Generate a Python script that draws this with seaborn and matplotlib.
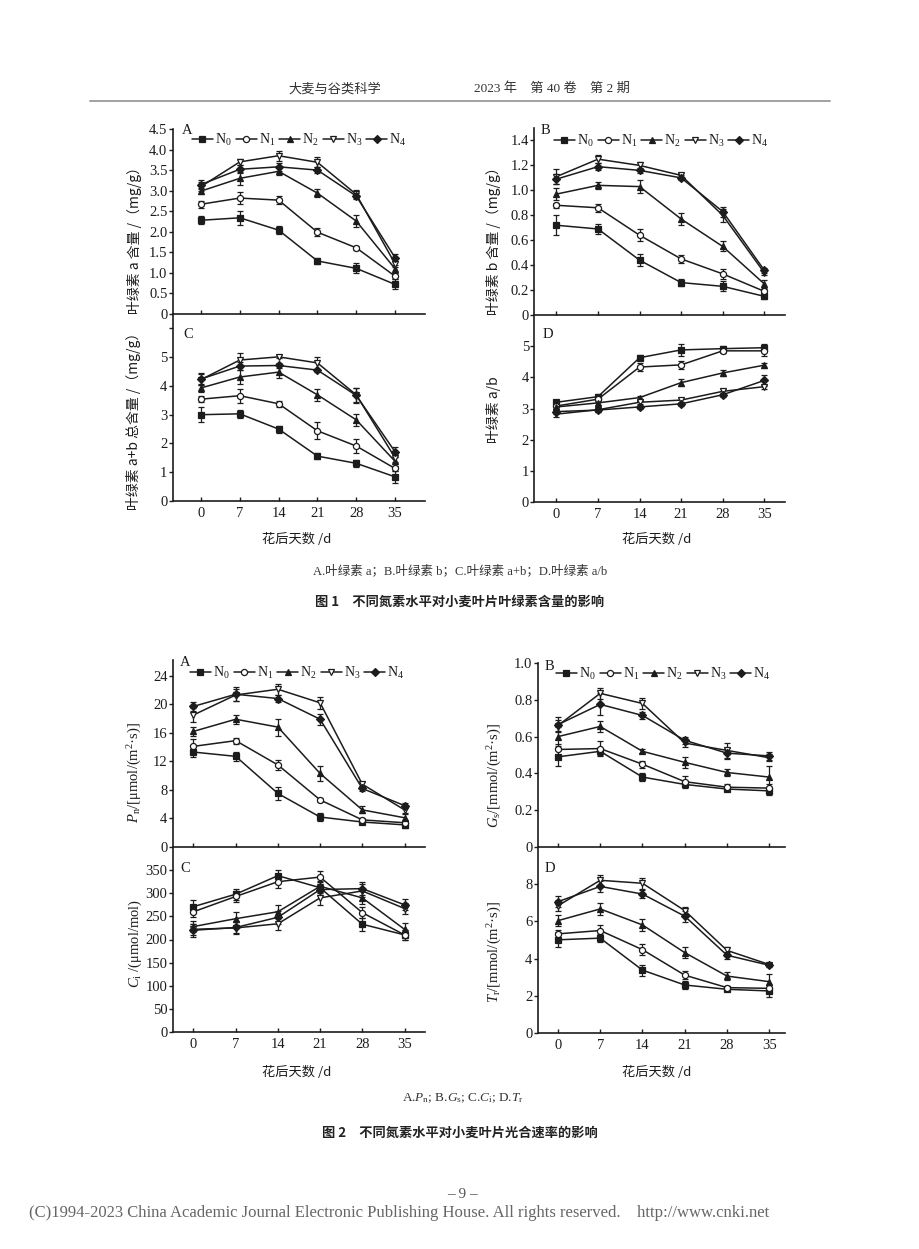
import pandas as pd
import matplotlib
matplotlib.use("Agg")
import matplotlib.pyplot as plt
import seaborn as sns
from matplotlib.lines import Line2D

# sampling days after anthesis
days = [0, 7, 14, 21, 28, 35]
treatments = ["N0", "N1", "N2", "N3", "N4"]
legend_labels = [r"N$_0$", r"N$_1$", r"N$_2$", r"N$_3$", r"N$_4$"]

# Fig 1 A: chlorophyll a (mg/g), rows N0..N4
chla = [[2.28, 2.34, 2.04, 1.29, 1.11, 0.72],
        [2.67, 2.82, 2.77, 1.99, 1.61, 0.92],
        [2.99, 3.30, 3.47, 2.94, 2.26, 1.10],
        [3.10, 3.70, 3.85, 3.69, 2.91, 1.22],
        [3.15, 3.52, 3.58, 3.50, 2.87, 1.37]]
chla_err = [[0.10, 0.17, 0.10, 0.08, 0.12, 0.12],
            [0.08, 0.15, 0.10, 0.10, 0.05, 0.08],
            [0.08, 0.15, 0.10, 0.10, 0.15, 0.10],
            [0.10, 0.07, 0.12, 0.12, 0.10, 0.08],
            [0.10, 0.10, 0.10, 0.08, 0.08, 0.08]]

# Fig 1 B: chlorophyll b (mg/g)
chlb = [[0.72, 0.69, 0.44, 0.26, 0.23, 0.15],
        [0.88, 0.86, 0.64, 0.45, 0.33, 0.19],
        [0.97, 1.04, 1.03, 0.77, 0.55, 0.25],
        [1.11, 1.25, 1.20, 1.12, 0.80, 0.34],
        [1.09, 1.19, 1.16, 1.10, 0.83, 0.36]]
chlb_err = [[0.08, 0.04, 0.05, 0.03, 0.04, 0.02],
            [0.02, 0.03, 0.05, 0.03, 0.04, 0.02],
            [0.05, 0.03, 0.05, 0.05, 0.04, 0.03],
            [0.06, 0.03, 0.03, 0.02, 0.05, 0.02],
            [0.04, 0.03, 0.02, 0.02, 0.04, 0.02]]

# Fig 1 C: chlorophyll a+b (mg/g)
chlab = [[3.00, 3.03, 2.50, 1.56, 1.31, 0.84],
         [3.54, 3.66, 3.38, 2.44, 1.91, 1.13],
         [3.93, 4.31, 4.48, 3.69, 2.82, 1.38],
         [4.22, 4.90, 5.01, 4.80, 3.69, 1.50],
         [4.24, 4.69, 4.71, 4.55, 3.67, 1.71]]
chlab_err = [[0.27, 0.15, 0.12, 0.10, 0.13, 0.20],
             [0.10, 0.25, 0.10, 0.30, 0.25, 0.10],
             [0.15, 0.25, 0.20, 0.20, 0.20, 0.15],
             [0.20, 0.25, 0.05, 0.20, 0.25, 0.15],
             [0.20, 0.15, 0.10, 0.05, 0.25, 0.18]]

# Fig 1 D: chlorophyll a/b
ratio = [[3.20, 3.38, 4.63, 4.88, 4.92, 4.95],
         [3.08, 3.30, 4.33, 4.40, 4.85, 4.85],
         [3.05, 3.18, 3.35, 3.83, 4.14, 4.39],
         [2.82, 2.96, 3.20, 3.27, 3.55, 3.70],
         [2.90, 2.95, 3.05, 3.15, 3.44, 3.90]]
ratio_err = [[0.08, 0.08, 0.08, 0.18, 0.10, 0.12],
             [0.08, 0.08, 0.12, 0.12, 0.08, 0.15],
             [0.08, 0.06, 0.06, 0.12, 0.10, 0.08],
             [0.08, 0.06, 0.08, 0.08, 0.06, 0.06],
             [0.08, 0.06, 0.08, 0.06, 0.06, 0.18]]

# Fig 2 A: Pn
pn = [[13.3, 12.7, 7.5, 4.2, 3.5, 3.1],
      [14.1, 14.9, 11.5, 6.6, 3.8, 3.4],
      [16.2, 17.9, 16.8, 10.3, 5.2, 4.1],
      [18.5, 21.3, 22.1, 20.2, 8.8, 5.2],
      [19.7, 21.4, 20.8, 17.9, 8.2, 5.8]]
pn_err = [[0.7, 0.6, 0.9, 0.5, 0.3, 0.5],
          [1.0, 0.4, 0.7, 0.3, 0.3, 0.4],
          [0.6, 0.6, 1.2, 1.0, 0.5, 0.5],
          [1.0, 0.8, 0.8, 0.8, 0.3, 0.4],
          [0.6, 1.0, 0.5, 0.8, 0.3, 0.3]]

# Fig 2 B: Gs
gs = [[0.49, 0.52, 0.38, 0.34, 0.315, 0.305],
      [0.53, 0.535, 0.45, 0.355, 0.325, 0.32],
      [0.60, 0.655, 0.52, 0.46, 0.405, 0.38],
      [0.66, 0.835, 0.78, 0.565, 0.525, 0.485],
      [0.665, 0.775, 0.715, 0.58, 0.51, 0.495]]
gs_err = [[0.05, 0.02, 0.02, 0.02, 0.01, 0.02],
          [0.03, 0.04, 0.02, 0.03, 0.02, 0.02],
          [0.05, 0.03, 0.01, 0.03, 0.02, 0.06],
          [0.03, 0.03, 0.03, 0.02, 0.04, 0.02],
          [0.04, 0.06, 0.02, 0.02, 0.03, 0.02]]

# Fig 2 C: Ci
ci = [[271, 298, 338, 312, 233, 210],
      [260, 293, 325, 335, 258, 210],
      [228, 245, 260, 315, 290, 222],
      [222, 225, 234, 290, 305, 267],
      [220, 226, 248, 308, 310, 275]]
ci_err = [[14, 12, 12, 12, 14, 10],
          [12, 12, 14, 14, 12, 10],
          [12, 14, 14, 12, 14, 14],
          [12, 14, 14, 16, 14, 12],
          [14, 12, 14, 12, 14, 12]]

# Fig 2 D: Tr
tr = [[5.01, 5.10, 3.38, 2.58, 2.35, 2.26],
      [5.33, 5.51, 4.48, 3.11, 2.44, 2.40],
      [6.04, 6.67, 5.81, 4.32, 3.06, 2.76],
      [6.84, 8.21, 8.05, 6.58, 4.44, 3.68],
      [7.06, 7.88, 7.47, 6.28, 4.18, 3.64]]
tr_err = [[0.4, 0.2, 0.3, 0.2, 0.1, 0.3],
          [0.2, 0.3, 0.3, 0.2, 0.1, 0.2],
          [0.3, 0.3, 0.3, 0.3, 0.2, 0.4],
          [0.3, 0.3, 0.3, 0.2, 0.2, 0.1],
          [0.3, 0.3, 0.2, 0.3, 0.2, 0.1]]

sns.set_theme(style="ticks")
plt.rcParams["font.family"] = ["Liberation Serif", "Noto Sans CJK SC", "DejaVu Sans"]
plt.rcParams["mathtext.fontset"] = "custom"
plt.rcParams["mathtext.rm"] = "Liberation Serif"
plt.rcParams["mathtext.it"] = "Liberation Serif:italic"

W, H = 920, 1249
ink = "#1c1c1c"
markers = ["s", "o", "^", "v", "D"]
faces = [ink, "white", ink, "white", ink]
msizes = [4.2, 4.4, 4.6, 4.6, 3.8]
cjk = ["Noto Sans CJK SC", "Liberation Serif"]

fig = plt.figure(figsize=(W / 100, H / 100), dpi=100)


def fx(x):
    return x / W


def fy(y):
    return 1 - y / H


def make_axes(l, r, t, b):
    return fig.add_axes([fx(l), fy(b), (r - l) / W, (b - t) / H])


def draw(ax, means, errs, xlim, ylim, yticks, ylabels, top):
    for i in range(len(treatments)):
        df = pd.DataFrame({"day": days, "value": means[i]})
        sns.lineplot(data=df, x="day", y="value", ax=ax, color=ink, linewidth=1.1,
                     marker=markers[i], markersize=msizes[i], markerfacecolor=faces[i],
                     markeredgecolor=ink, markeredgewidth=0.9, errorbar=None,
                     legend=False, zorder=3)
        ax.errorbar(days, means[i], yerr=errs[i], fmt="none", ecolor=ink,
                    elinewidth=0.9, capsize=2, capthick=0.9, zorder=2)
    ax.set_xlim(*xlim)
    ax.set_ylim(*ylim)
    ax.set_xticks(days)
    ax.set_xticklabels([str(d) for d in days])
    ax.set_yticks(yticks)
    ax.set_yticklabels(ylabels)
    ax.set_xlabel("")
    ax.set_ylabel("")
    ax.set_facecolor("none")
    for s in ["top", "right"]:
        ax.spines[s].set_visible(False)
    for s in ["left", "bottom"]:
        ax.spines[s].set_linewidth(1.2)
        ax.spines[s].set_color(ink)
    ax.tick_params(axis="x", direction="in", length=3, width=1, colors=ink,
                   labelsize=10.5, pad=4, labelbottom=not top)
    ax.tick_params(axis="y", direction="out", length=3, width=1, colors=ink,
                   labelsize=10.5, pad=1)


def add_legend(ax, x, y):
    handles = [Line2D([0], [0], color=ink, lw=1.1, marker=markers[i], markersize=msizes[i],
                      markerfacecolor=faces[i], markeredgecolor=ink, markeredgewidth=0.9)
               for i in range(len(treatments))]
    fig.legend(handles, legend_labels, loc="center left", bbox_to_anchor=(fx(x), fy(y)),
               ncol=5, frameon=False, fontsize=10, handlelength=1.5, handletextpad=0.15,
               columnspacing=0.3, borderpad=0, borderaxespad=0, labelcolor=ink)


def fmt(vals, nd):
    return [("0" if v == 0 else f"{v:.{nd}f}") for v in vals]


# ---------- figure 1 ----------
ax1a = make_axes(173, 425, 129, 314)
ax1c = make_axes(173, 425, 314, 501)
ax1b = make_axes(534.5, 785, 128, 315)
ax1d = make_axes(534.5, 785, 315, 502)

t = [0, 0.5, 1.0, 1.5, 2.0, 2.5, 3.0, 3.5, 4.0, 4.5]
draw(ax1a, chla, chla_err, (-5.05, 40.4), (0, 4.5), t, fmt(t, 1), True)
t = [0, 0.2, 0.4, 0.6, 0.8, 1.0, 1.2, 1.4]
draw(ax1b, chlb, chlb_err, (-3.7, 38.5), (0, 1.5), t, fmt(t, 1), True)
t = [0, 1, 2, 3, 4, 5, 6]
draw(ax1c, chlab, chlab_err, (-5.05, 40.4), (0, 6.5), t, ["0", "1", "2", "3", "4", "5", ""], False)
t = [0, 1, 2, 3, 4, 5]
draw(ax1d, ratio, ratio_err, (-3.7, 38.5), (0, 6.0), t, ["0", "1", "2", "3", "4", "5"], False)

add_legend(ax1a, 192, 140)
add_legend(ax1b, 554, 141)

# ---------- figure 2 ----------
ax2a = make_axes(173, 425, 660, 847)
ax2c = make_axes(173, 425, 847, 1032)
ax2b = make_axes(538, 785, 663, 847)
ax2d = make_axes(538, 785, 847, 1033)

t = [0, 4, 8, 12, 16, 20, 24]
draw(ax2a, pn, pn_err, (-3.4, 38.4), (0, 26.2), t, [str(v) for v in t], True)
t = [0, 0.2, 0.4, 0.6, 0.8, 1.0]
draw(ax2b, gs, gs_err, (-3.3, 37.6), (0, 1.0), t, fmt(t, 1), True)
t = [0, 50, 100, 150, 200, 250, 300, 350]
draw(ax2c, ci, ci_err, (-3.4, 38.4), (0, 400), t, [str(v) for v in t], False)
t = [0, 2, 4, 6, 8]
draw(ax2d, tr, tr_err, (-3.3, 37.6), (0, 10), t, [str(v) for v in t], False)

add_legend(ax2a, 190, 673)
add_legend(ax2b, 556, 674)

# panel letters
for letter, x, y in [("A", 182, 130), ("B", 541, 131), ("C", 183, 334), ("D", 543, 334),
                     ("A", 180, 663), ("B", 545, 666), ("C", 180, 869), ("D", 545, 868)]:
    fig.text(fx(x), fy(y), letter, fontsize=10.5, color=ink, ha="left", va="center")

# y axis labels
ylabels = [
    ("叶绿素 a 含量 /（mg/g）", 135, 237),
    ("叶绿素 b 含量 /（mg/g）", 494, 238),
    ("叶绿素 a+b 总含量 /（mg/g）", 134, 418),
    ("叶绿素 a/b", 494, 410),
]
for txt, x, y in ylabels:
    fig.text(fx(x), fy(y), txt, rotation=90, fontsize=10, color=ink, ha="center",
             va="center", family=cjk)

ylabels2 = [
    (r"$P_{\rm n}$/[μmol/(m$^{2}$·s)]", 135, 772),
    (r"$G_{\rm s}$/[mmol/(m$^{2}$·s)]", 495, 775),
    (r"$C_{\rm i}$ /(μmol/mol)", 135, 943),
    (r"$T_{\rm r}$/[mmol/(m$^{2}$·s)]", 495, 952),
]
for txt, x, y in ylabels2:
    fig.text(fx(x), fy(y), txt, rotation=90, fontsize=10.5, color=ink, ha="center",
             va="center")

# x axis labels
for x, y in [(297, 540), (657, 540), (297, 1072), (657, 1072)]:
    fig.text(fx(x), fy(y), "花后天数 /d", fontsize=9.5, color=ink, ha="center",
             va="center", family=cjk)

# header
fig.text(fx(335), fy(89), "大麦与谷类科学", fontsize=9.5, color="#333333", ha="center",
         va="center", family=cjk)
fig.text(fx(552), fy(89), "2023 年　第 40 卷　第 2 期", fontsize=9.5, color="#333333",
         ha="center", va="center", family=["Liberation Serif", "Noto Sans CJK SC"])
fig.add_artist(Line2D([fx(90), fx(830)], [fy(101), fy(101)], color="#9a9a9a", lw=1.3))

# captions
fig.text(fx(460), fy(571), "A.叶绿素 a；B.叶绿素 b；C.叶绿素 a+b；D.叶绿素 a/b",
         fontsize=9, color="#333333", ha="center", va="center",
         family=["Liberation Serif", "Noto Sans CJK SC"])
fig.text(fx(460), fy(602), "图 1　不同氮素水平对小麦叶片叶绿素含量的影响", fontsize=9.5,
         color="#222222", ha="center", va="center", family=cjk, weight="bold")
fig.text(fx(463), fy(1098),
         r"A.$P_{\rm n}$; B.$G_{\rm s}$; C.$C_{\rm i}$; D.$T_{\rm r}$",
         fontsize=9.5, color="#333333", ha="center", va="center")
fig.text(fx(460), fy(1133), "图 2　不同氮素水平对小麦叶片光合速率的影响", fontsize=9.5,
         color="#222222", ha="center", va="center", family=cjk, weight="bold")

# footer
fig.text(fx(462), fy(1195), "– 9 –", fontsize=11, color="#555555", ha="center",
         va="center")
fig.text(fx(399), fy(1213),
         "(C)1994-2023 China Academic Journal Electronic Publishing House. All rights reserved.    http://www.cnki.net",
         fontsize=12, color="#666666", ha="center", va="center")

fig.savefig("out.png", dpi=100, facecolor="white")
